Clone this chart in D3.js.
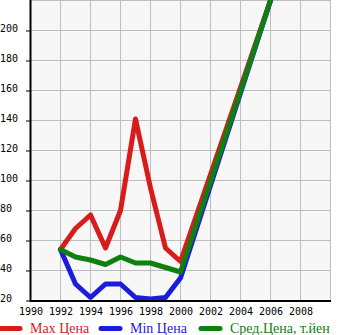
<!DOCTYPE html>
<html><head><meta charset="utf-8">
<script src="https://cdn.jsdelivr.net/npm/d3@7"></script>
<style>html,body{margin:0;padding:0;background:#fff;}svg{display:block;}</style>
</head><body>
<script>
const years = [1992,1993,1994,1995,1996,1997,1998,1999,2000,2006];
const maxPrice = [54,68,77,55,80,141,95,55,46,220];
const minPrice = [54,31,22,31,31,22,21,22,35,220];
const avgPrice = [54,49,47,44,49,45,45,42,39,220];
const xTicks = [1990,1992,1994,1996,1998,2000,2002,2004,2006,2008];
const yTicks = [20,40,60,80,100,120,140,160,180,200];
const seriesNames = ["Max Цена","Min Цена","Сред.Цена, т.йен"];
const seriesColors = ["#d81c1c","#1c1cdc","#0f800f"];
const seriesData = [maxPrice, minPrice, avgPrice];

const W=345,H=335;
const svg=d3.select("body").append("svg").attr("width",W).attr("height",H);
const x=d3.scaleLinear().domain([1990,2010]).range([30.5,330.5]);
const y=d3.scaleLinear().domain([20,220]).range([300.5,0.5]);

svg.append("rect").attr("x",30).attr("y",0).attr("width",300).attr("height",300).attr("fill","#f7f7f7");
const grid=svg.append("g").attr("stroke","#bdbdbd").attr("stroke-width",1);
d3.range(1992,2011,2).forEach(v=>grid.append("line").attr("x1",x(v)).attr("x2",x(v)).attr("y1",0).attr("y2",300));
d3.range(40,221,20).forEach(v=>grid.append("line").attr("x1",30).attr("x2",330).attr("y1",y(v)).attr("y2",y(v)));

svg.append("clipPath").attr("id","c").append("rect").attr("x",30).attr("y",0).attr("width",301).attr("height",301);
const line=d3.line().x(d=>x(d[0])).y(d=>y(d[1]));
const lg=svg.append("g").attr("clip-path","url(#c)");
seriesData.forEach((s,i)=>{
  lg.append("path").attr("d",line(years.map((yr,j)=>[yr,s[j]])))
    .attr("fill","none").attr("stroke",seriesColors[i]).attr("stroke-width",5)
    .attr("stroke-linejoin","round").attr("stroke-linecap","round");
});

// axes
svg.append("line").attr("x1",30).attr("x2",30).attr("y1",0).attr("y2",302).attr("stroke","#000").attr("stroke-width",2).attr("transform","translate(0.5,0)");
svg.append("line").attr("x1",30).attr("x2",331).attr("y1",301).attr("y2",301).attr("stroke","#000").attr("stroke-width",2);
const yAxis=d3.axisLeft(y).tickValues(yTicks).tickSize(5).tickFormat(d3.format("d"));
const ya=svg.append("g").attr("transform","translate(31,0)").call(yAxis);
ya.select(".domain").remove();
ya.selectAll(".tick line").attr("stroke","#000");
ya.selectAll(".tick text").attr("x",-31).attr("dy",0).attr("y",1).attr("text-anchor","start")
  .style("font-family","DejaVu Sans Mono").style("font-size","10px").attr("fill","#000");

const xAxis=d3.axisBottom(x).tickValues(xTicks).tickSize(0).tickFormat(d3.format("d"));
const xa=svg.append("g").attr("transform","translate(0,301)").call(xAxis);
xa.select(".domain").remove();
xa.selectAll(".tick text").attr("y",14).attr("dy",0)
  .style("font-family","DejaVu Sans Mono").style("font-size","10px").attr("fill","#000");

// legend
const leg=svg.append("g");
seriesNames.forEach((n,i)=>{
  const tx=30+i*100;
  leg.append("line").attr("x1",tx-29).attr("x2",tx-10).attr("y1",328.5).attr("y2",328.5)
    .attr("stroke",seriesColors[i]).attr("stroke-width",5).attr("stroke-linecap","round");
  leg.append("text").attr("x",tx).attr("y",333).text(n).attr("fill",seriesColors[i])
    .style("font-family","Liberation Serif").style("font-size","14px");
});
</script>
</body></html>
